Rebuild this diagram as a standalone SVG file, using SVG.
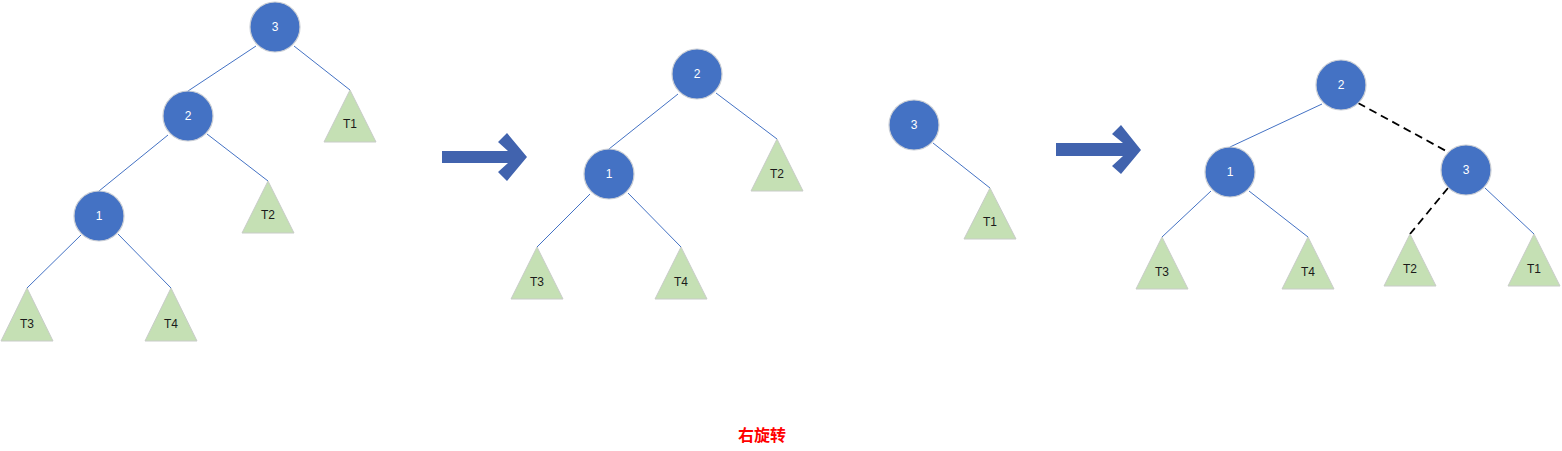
<svg xmlns="http://www.w3.org/2000/svg" width="1562" height="451" viewBox="0 0 1562 451">
<style>
.node circle{fill:#4472C4;stroke:#C9CDD4;stroke-width:1.2}
.node text{fill:#FFFFFF;font-family:"Liberation Sans",Arial,sans-serif;font-size:12px;text-anchor:middle;dominant-baseline:central}
.leaf polygon{fill:#C5E0B4;stroke:#C8CCC8;stroke-width:1}
.leaf text{fill:#1A1A1A;font-family:"Liberation Sans",Arial,sans-serif;font-size:12px;text-anchor:middle;dominant-baseline:central}
.edge{stroke:#4472C4;stroke-width:1;fill:none}
.dash{stroke:#000000;stroke-width:1.8;stroke-dasharray:8 5;fill:none}
.arrow{fill:#4163AE}
.title{fill:#FF0000;font-family:"Liberation Sans","Noto Sans CJK SC",sans-serif;font-size:16px;font-weight:bold;text-anchor:middle}
</style>
<rect width="1562" height="451" fill="#FFFFFF"/>
<g id="connectors">
<!-- tree 1 -->
<line class="edge" x1="256" y1="46" x2="188" y2="91"/>
<line class="edge" x1="294" y1="46" x2="350" y2="90"/>
<line class="edge" x1="168" y1="135" x2="99" y2="191"/>
<line class="edge" x1="207" y1="134" x2="268" y2="181"/>
<line class="edge" x1="81" y1="235" x2="27" y2="288"/>
<line class="edge" x1="118" y1="234" x2="171" y2="288"/>
<!-- tree 2 -->
<line class="edge" x1="678" y1="94" x2="609" y2="149"/>
<line class="edge" x1="716" y1="93" x2="777" y2="139"/>
<line class="edge" x1="590" y1="194" x2="537" y2="247"/>
<line class="edge" x1="628" y1="193" x2="681" y2="247"/>
<!-- standalone -->
<line class="edge" x1="933" y1="143" x2="990" y2="188"/>
<!-- tree 3 -->
<line class="edge" x1="1322" y1="104" x2="1230" y2="147"/>
<line class="edge" x1="1211" y1="191" x2="1162" y2="237"/>
<line class="edge" x1="1249" y1="191" x2="1308" y2="237"/>
<line class="dash" x1="1358" y1="103" x2="1448" y2="152"/>
<line class="dash" x1="1448" y1="188" x2="1410" y2="234"/>
<line class="edge" x1="1485" y1="188" x2="1534" y2="234"/>
</g>
<g id="arrow1"><polygon class="arrow" points="442,151 508,151 498,142 507,133 527,157 507,181 498,172 508,163 442,163"/></g>
<g id="arrow2"><polygon class="arrow" points="1056,143 1123,143 1112,134 1121,125 1141,150 1121,174 1112,166 1123,156 1056,156"/></g>
<!-- tree 1 -->
<g id="t1-n3" class="node"><circle cx="275" cy="27" r="25"/><text x="275" y="27">3</text></g>
<g id="t1-n2" class="node"><circle cx="188" cy="116" r="25"/><text x="188" y="116">2</text></g>
<g id="t1-n1" class="node"><circle cx="99" cy="216" r="25"/><text x="99" y="216">1</text></g>
<g id="t1-T1" class="leaf"><polygon points="350,90 376,142 324,142"/><text x="350" y="124">T1</text></g>
<g id="t1-T2" class="leaf"><polygon points="268,181 294,233 242,233"/><text x="268" y="215">T2</text></g>
<g id="t1-T3" class="leaf"><polygon points="27,288 53,341 1,341"/><text x="27" y="324">T3</text></g>
<g id="t1-T4" class="leaf"><polygon points="171,288 197,341 145,341"/><text x="171" y="324">T4</text></g>
<!-- tree 2 -->
<g id="t2-n2" class="node"><circle cx="697" cy="74" r="25"/><text x="697" y="74">2</text></g>
<g id="t2-n1" class="node"><circle cx="609" cy="174" r="25"/><text x="609" y="174">1</text></g>
<g id="t2-T2" class="leaf"><polygon points="777,139 803,191 751,191"/><text x="777" y="174">T2</text></g>
<g id="t2-T3" class="leaf"><polygon points="537,247 563,299 511,299"/><text x="537" y="282">T3</text></g>
<g id="t2-T4" class="leaf"><polygon points="681,247 707,299 655,299"/><text x="681" y="282">T4</text></g>
<!-- standalone -->
<g id="s-n3" class="node"><circle cx="914" cy="125" r="25"/><text x="914" y="125">3</text></g>
<g id="s-T1" class="leaf"><polygon points="990,188 1016,239 964,239"/><text x="990" y="222">T1</text></g>
<!-- tree 3 -->
<g id="t3-n2" class="node"><circle cx="1341" cy="85" r="25"/><text x="1341" y="85">2</text></g>
<g id="t3-n1" class="node"><circle cx="1230" cy="172" r="25"/><text x="1230" y="172">1</text></g>
<g id="t3-n3" class="node"><circle cx="1466" cy="170" r="25"/><text x="1466" y="170">3</text></g>
<g id="t3-T3" class="leaf"><polygon points="1162,237 1188,289 1136,289"/><text x="1162" y="272">T3</text></g>
<g id="t3-T4" class="leaf"><polygon points="1308,237 1334,289 1282,289"/><text x="1308" y="272">T4</text></g>
<g id="t3-T2" class="leaf"><polygon points="1410,234 1436,286 1384,286"/><text x="1410" y="269">T2</text></g>
<g id="t3-T1" class="leaf"><polygon points="1534,234 1560,286 1508,286"/><text x="1534" y="269">T1</text></g>
<g id="caption"><text class="title" x="762" y="441">右旋转</text></g>
</svg>
